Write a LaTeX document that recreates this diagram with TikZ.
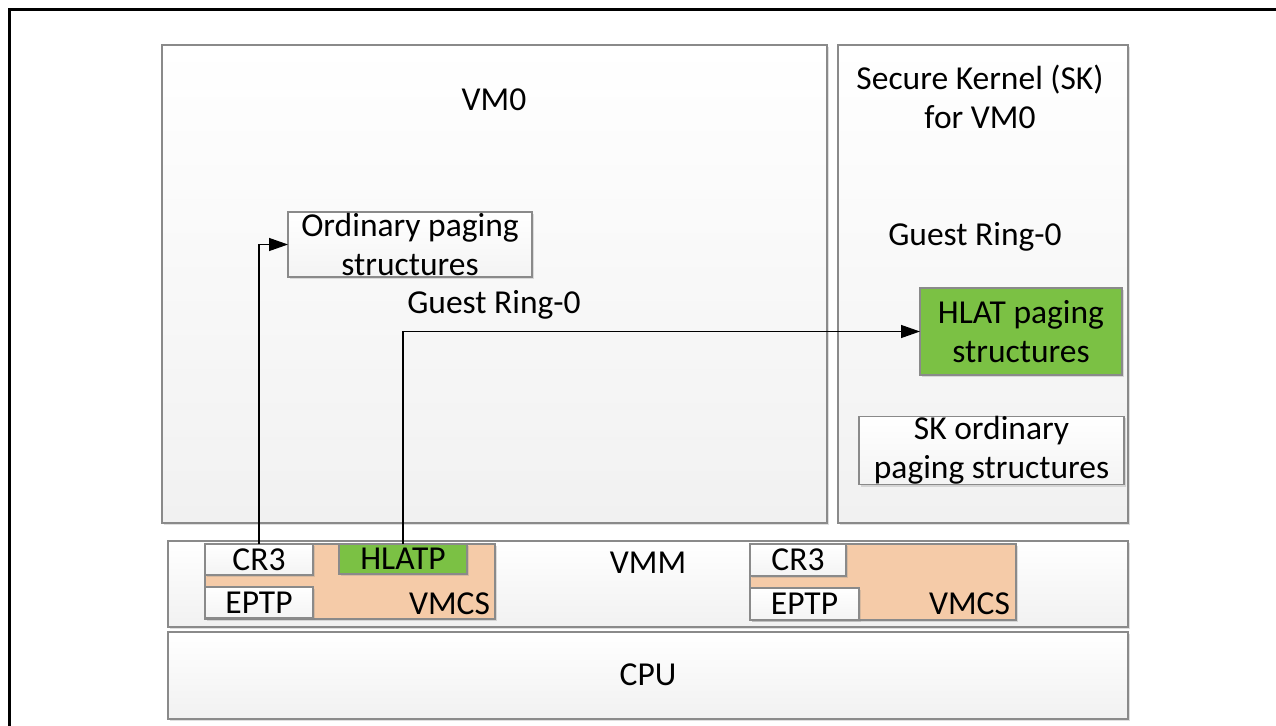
\documentclass[tikz,border=0pt]{standalone}
\usepackage{fontspec}
\setmainfont{Carlito}
\usetikzlibrary{arrows.meta,shadows}
\definecolor{boxline}{HTML}{8A8A8A}
\definecolor{vmcsfill}{HTML}{F5CBA8}
\definecolor{hlatgreen}{HTML}{7BC144}
\tikzset{
  every node/.style={font=\fontsize{33.5}{39}\selectfont, inner sep=0pt, outer sep=0pt},
  panel/.style={draw=boxline, line width=1.6pt, top color=white, bottom color=gray!11,
    drop shadow={shadow xshift=2pt, shadow yshift=-2pt, opacity=0.25, fill=gray}},
  whitebox/.style={draw=boxline, line width=1.6pt, top color=white, bottom color=gray!9,
    align=center, drop shadow={shadow xshift=2pt, shadow yshift=-2pt, opacity=0.25, fill=gray}},
  greenbox/.style={draw=boxline, line width=1.6pt, fill=hlatgreen, align=center,
    drop shadow={shadow xshift=2pt, shadow yshift=-2pt, opacity=0.25, fill=gray}},
  vmcsbox/.style={draw=boxline, line width=1.6pt, fill=vmcsfill,
    drop shadow={shadow xshift=2pt, shadow yshift=-2pt, opacity=0.25, fill=gray}},
  label/.style={align=center},
  link/.style={draw=black, line width=1.3pt, -{Triangle[length=19pt,width=13pt]}},
}
\begin{document}
\begin{tikzpicture}[x=1pt,y=-1pt]
\useasboundingbox (0,0) rectangle (1276,725);
\clip (0,0) rectangle (1276,725);
\fill[white] (0,0) rectangle (1276,725);
\draw[line width=3pt, black] (9.5,9.5) rectangle (1300,760);

% main panels
\node[panel, minimum width=665pt, minimum height=478pt] (vm0) at (494.5,284) {};
\node[panel, minimum width=290pt, minimum height=478pt] (sk) at (983,284) {};
\node[panel, minimum width=960pt, minimum height=86pt] (vmm) at (648,584) {};
\node[panel, minimum width=960pt, minimum height=87pt] (cpu) at (648,675.5) {};

% labels of panels
\node[label] (vm0t) at (494,100) {VM0};
\node[label] (skt) at (980,97) {Secure Kernel (SK)\\for VM0};
\node[label] (gr1) at (494,305) {Guest Ring-0};
\node[label] (gr2) at (975,237) {Guest Ring-0};
\node[label] (vmmt) at (648,563) {VMM};
\node[label] (cput) at (648,675) {CPU};

% paging structures
\node[whitebox, minimum width=244pt, minimum height=65pt] (ord) at (410,244.5) {Ordinary paging\\structures};
\node[greenbox, minimum width=202pt, minimum height=87pt] (hlat) at (1021,331.5) {HLAT paging\\structures};
\node[whitebox, minimum width=265pt, minimum height=65pt] (skord) at (991.5,450.5) {SK ordinary\\paging structures};

% left VMCS
\node[vmcsbox, minimum width=290pt, minimum height=75pt] (vmcsa) at (350,581.5) {};
\node[anchor=east] (vmcsat) at (490,604) {VMCS};
\node[whitebox, minimum width=108pt, minimum height=31pt] (cr3a) at (259,559.5) {CR3};
\node[whitebox, minimum width=108pt, minimum height=31pt] (eptpa) at (259,602.5) {EPTP};
\node[greenbox, minimum width=128pt, minimum height=30pt] (hlatp) at (403,559) {HLATP};

% right VMCS
\node[vmcsbox, minimum width=266pt, minimum height=76pt] (vmcsb) at (883,582) {};
\node[anchor=east] (vmcsbt) at (1010,604) {VMCS};
\node[whitebox, minimum width=96pt, minimum height=32pt] (cr3b) at (798,560) {CR3};
\node[whitebox, minimum width=109pt, minimum height=32pt] (eptpb) at (804.5,604) {EPTP};

% connectors
\draw[link] (cr3a.north) |- (ord.west);
\draw[link] (hlatp.north) |- (hlat.west);
\end{tikzpicture}
\end{document}
